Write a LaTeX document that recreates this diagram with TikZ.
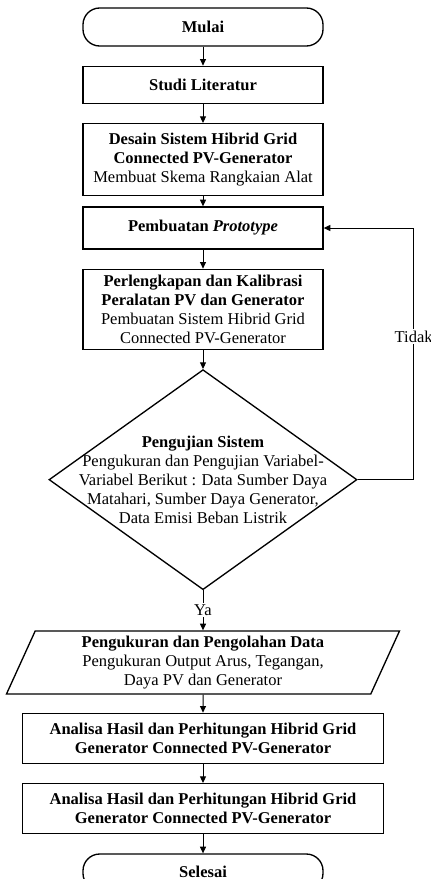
\documentclass[tikz,border=0pt]{standalone}
\usepackage{fontspec}
\setmainfont{Liberation Serif}
\usetikzlibrary{arrows.meta,positioning,shapes.geometric}

\begin{document}
\begin{tikzpicture}[
  font=\fontsize{9.9}{11.4}\selectfont,
  box/.style={draw, line width=0.8pt, align=center, minimum width=144pt, inner sep=1pt},
  wide/.style={box, minimum width=216.6pt, minimum height=30pt},
  term/.style={draw, line width=0.8pt, rounded corners=10pt, minimum width=144pt, minimum height=22.8pt, font=\fontsize{9.9}{11.4}\selectfont\bfseries},
  decision/.style={draw, diamond, line width=0.8pt, minimum width=184.8pt, minimum height=132pt, inner sep=0pt},
  io/.style={draw, trapezium, trapezium left angle=63, trapezium right angle=117, trapezium stretches body,
    line width=0.8pt, minimum width=235.8pt, minimum height=37.8pt, align=center, inner sep=1pt},
  arrow/.style={-{Triangle[length=4pt,width=3.6pt]}, line width=0.6pt},
  lbl/.style={fill=white, inner sep=1pt}
]

\useasboundingbox (0,0) rectangle (258.6pt,-527.4pt);

\node[term] (mulai) at (121.8pt,-16.2pt) {Mulai};
\node[box, below=11.4pt of mulai, minimum height=22.2pt] (studi) {\textbf{Studi Literatur}};
\node[box, below=11.4pt of studi, minimum height=43.2pt] (desain)
  {\textbf{Desain Sistem Hibrid Grid}\\\textbf{Connected PV-Generator}\\Membuat Skema Rangkaian Alat};
\node[box, below=6pt of desain, minimum height=25.2pt] (proto) {\textbf{Pembuatan \textit{Prototype}}};
\node[box, below=11.4pt of proto, minimum height=48pt] (perleng)
  {\textbf{Perlengkapan dan Kalibrasi}\\\textbf{Peralatan PV dan Generator}\\Pembuatan Sistem Hibrid Grid\\Connected PV-Generator};

\node[decision, below=11.4pt of perleng] (uji) {};
\node[align=center] (ujitext) at (uji.center)
  {\textbf{Pengujian Sistem}\\Pengukuran dan Pengujian Variabel-\\Variabel Berikut : Data Sumber Daya\\Matahari, Sumber Daya Generator,\\Data Emisi Beban Listrik};

\node[io, below=24pt of uji] (ukur)
  {\textbf{Pengukuran dan Pengolahan Data}\\Pengukuran Output Arus, Tegangan,\\Daya PV dan Generator};
\node[wide, below=10.8pt of ukur] (analisa)
  {\textbf{Analisa Hasil dan Perhitungan Hibrid Grid}\\\textbf{Generator Connected PV-Generator}};
\node[wide, below=11.4pt of analisa] (hitung)
  {\textbf{Analisa Hasil dan Perhitungan Hibrid Grid}\\\textbf{Generator Connected PV-Generator}};
\node[term, below=11.4pt of hitung, minimum height=21.6pt] (selesai) {Selesai};

\draw[arrow] (mulai) -- (studi);
\draw[arrow] (studi) -- (desain);
\draw[arrow] (desain) -- (proto);
\draw[arrow] (proto) -- (perleng);
\draw[arrow] (perleng) -- (uji);
\draw[arrow] (uji.south) -- node[lbl] (ya) {Ya} (ukur.north);
\draw[arrow] (ukur) -- (analisa);
\draw[arrow] (analisa) -- (hitung);
\draw[arrow] (hitung) -- (selesai);

\coordinate[right=54pt of proto.east] (balik);
\draw[arrow] (uji.east) -| node[lbl, pos=0.784] (tidak) {Tidak} (balik) -- (proto.east);

\end{tikzpicture}
\end{document}
